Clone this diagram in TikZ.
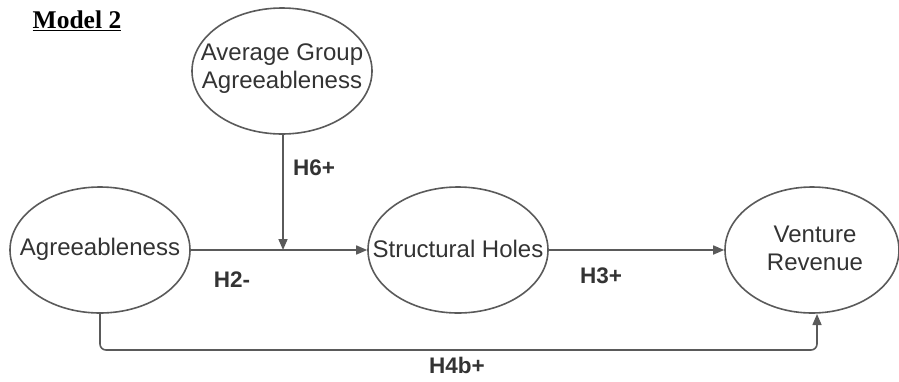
\documentclass[tikz,border=0pt]{standalone}
\usepackage{fontspec}
\setmainfont{Liberation Sans}
\newfontfamily\titlefont{Liberation Serif}
\usetikzlibrary{arrows.meta,shapes.geometric}
\definecolor{linegray}{HTML}{5A5A5A}
\definecolor{textgray}{HTML}{333333}
\begin{document}
\begin{tikzpicture}[x=1bp,y=-1bp,
  construct/.style={ellipse, draw=linegray, line width=1.6bp, minimum width=180bp,
    minimum height=126bp, inner sep=0pt},
  caption/.style={align=center, text=textgray, inner sep=0pt,
    font=\fontsize{24bp}{28bp}\selectfont},
  link/.style={draw=linegray, line width=1.6bp, -{Triangle[length=11bp,width=9bp]}},
  hyp/.style={text=textgray, font=\fontsize{22.5bp}{26bp}\selectfont\bfseries},
]
\useasboundingbox (0,0) rectangle (899,381);

% title
\node[font=\titlefont\fontsize{25.5bp}{28bp}\selectfont\bfseries, text=black] (title) at (77,21) {\underline{Model 2}};

% constructs (outline first, then the wording centred inside)
\node[construct] (avg) at (282,71) {};
\node[construct] (agr) at (100,250) {};
\node[construct] (sh)  at (458,250) {};
\node[construct, minimum width=174bp] (vr) at (812,250) {};

\node[caption] (avgtext) at (282,69) {Average Group\\Agreeableness};
\node[caption] (agrtext) at (100,249) {Agreeableness};
\node[caption] (shtext)  at (458,249) {Structural Holes};
\node[caption] (vrtext)  at (815,248) {Venture\\Revenue};

% helper points
\coordinate (mod) at (283,250);
\coordinate (vrin) at (817,314);

% paths
\draw[link] (agr.east) -- (sh.west);
\draw[link] (avg.south -| mod) -- (mod);
\draw[link] (sh.east) -- (vr.west);
\draw[link, rounded corners=6bp] (agr.south) -- (100,350) -- (817,350) -- (vrin);

% hypothesis labels
\node[hyp] (h6) at (314,168) {H6+};
\node[hyp] (h2) at (232,280) {H2-};
\node[hyp] (h3) at (601,276) {H3+};
\node[hyp] (h4) at (457,365) {H4b+};
\end{tikzpicture}
\end{document}
